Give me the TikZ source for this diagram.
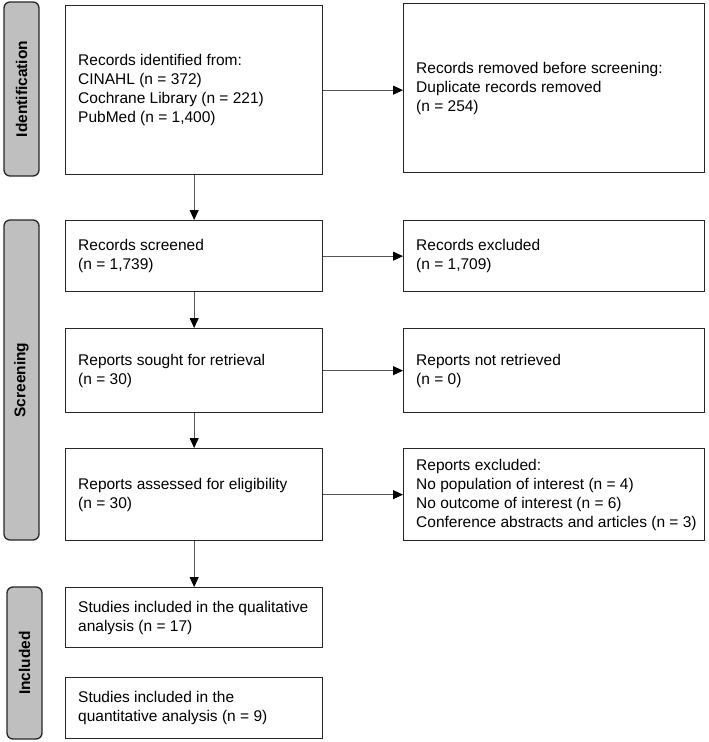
\documentclass[tikz,border=0pt]{standalone}
\usepackage{fontspec}
\setmainfont{Liberation Sans}
\usetikzlibrary{arrows.meta}
\definecolor{sidegray}{HTML}{BFBFBF}
\definecolor{arrgray}{HTML}{555555}
\tikzset{
  frame/.style={draw=black!85, line width=1.3pt, anchor=north west, inner sep=0pt},
  lbox/.style={frame, minimum width=257pt},
  rbox/.style={frame, minimum width=301pt},
  txt/.style={anchor=west, align=left, inner sep=0pt, font=\fontsize{15.5}{19}\selectfont},
  sidebar/.style={draw=black!85, fill=sidegray, line width=1.3pt, rounded corners=6pt,
    rotate=90, font=\bfseries\fontsize{15.5}{18}\selectfont, inner sep=0pt, minimum height=35pt},
  arr/.style={draw=arrgray, line width=0.8pt, -{Triangle[width=9pt,length=10pt,fill=black,color=black]}}
}
\begin{document}
\begin{tikzpicture}[x=1pt,y=-1pt]
\useasboundingbox (0,0) rectangle (709,742);
% side bars
\node[sidebar, minimum width=174pt] (sid) at (21.5,89) {Identification};
\node[sidebar, minimum width=320pt] (sscr) at (21.5,380) {Screening};
\node[sidebar, minimum width=152pt] (sinc) at (24.5,663) {Included};
% left boxes
\node[lbox, minimum height=169pt] (b1) at (65,5) {};
\node[lbox, minimum height=71pt] (b2) at (65,220) {};
\node[lbox, minimum height=84pt] (b3) at (65,328) {};
\node[lbox, minimum height=92pt] (b4) at (65,448) {};
\node[lbox, minimum height=60pt] (b5) at (65,587) {};
\node[lbox, minimum height=61pt] (b6) at (65,677) {};
% right boxes
\node[rbox, minimum height=169pt] (r1) at (403,3) {};
\node[rbox, minimum height=71pt] (r2) at (403,220) {};
\node[rbox, minimum height=84pt] (r3) at (403,328) {};
\node[rbox, minimum height=92pt] (r4) at (403,448) {};
% texts
\node[txt] (t1) at ([xshift=13pt]b1.west) {Records identified from:\\CINAHL (n = 372)\\Cochrane Library (n = 221)\\PubMed (n = 1,400)};
\node[txt] (t2) at ([xshift=13pt]b2.west) {Records screened\\(n = 1,739)};
\node[txt] (t3) at ([xshift=13pt]b3.west) {Reports sought for retrieval\\(n = 30)};
\node[txt] (t4) at ([xshift=13pt]b4.west) {Reports assessed for eligibility\\(n = 30)};
\node[txt] (t5) at ([xshift=13pt]b5.west) {Studies included in the qualitative\\analysis (n = 17)};
\node[txt] (t6) at ([xshift=13pt]b6.west) {Studies included in the\\quantitative analysis (n = 9)};
\node[txt] (u1) at ([xshift=13pt]r1.west) {Records removed before screening:\\Duplicate records removed\\(n = 254)};
\node[txt] (u2) at ([xshift=13pt]r2.west) {Records excluded\\(n = 1,709)};
\node[txt] (u3) at ([xshift=13pt]r3.west) {Reports not retrieved\\(n = 0)};
\node[txt] (u4) at ([xshift=13pt]r4.west) {Reports excluded:\\No population of interest (n = 4)\\No outcome of interest (n = 6)\\Conference abstracts and articles (n = 3)};
% arrows
\draw[arr] (b1) -- (b2);
\draw[arr] (b2) -- (b3);
\draw[arr] (b3) -- (b4);
\draw[arr] (b4) -- (b5);
\draw[arr] (b1.east) -- (b1.east -| r1.west);
\draw[arr] (b2.east) -- (b2.east -| r2.west);
\draw[arr] (b3.east) -- (b3.east -| r3.west);
\draw[arr] (b4.east) -- (b4.east -| r4.west);
\end{tikzpicture}
\end{document}
